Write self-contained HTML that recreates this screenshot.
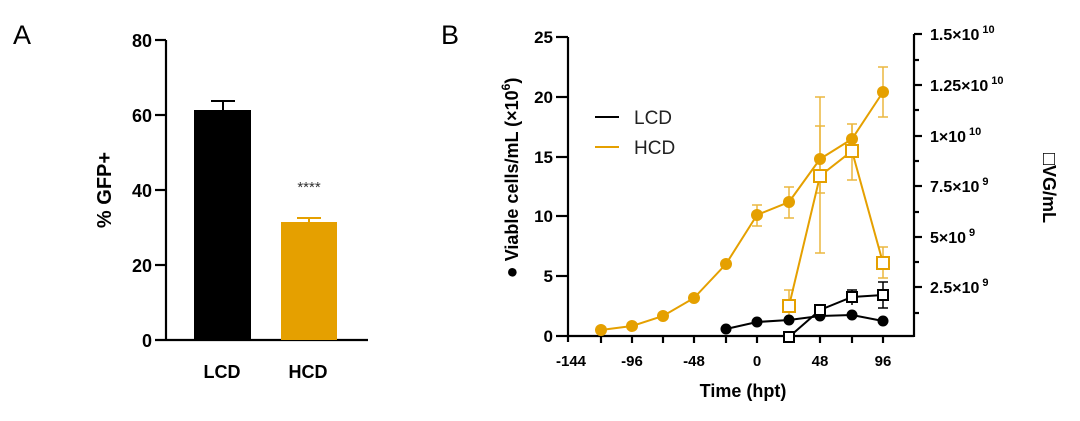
<!DOCTYPE html>
<html><head><meta charset="utf-8"><style>body{margin:0;background:#fff}svg{display:block}text{font-family:"Liberation Sans",Arial,sans-serif}</style></head><body>
<svg width="1080" height="421" viewBox="0 0 1080 421" xmlns="http://www.w3.org/2000/svg">
<!-- Panel A -->
<text x="13" y="44" font-size="27">A</text>
<g stroke="#000" stroke-width="2.2" fill="none">
<line x1="166" y1="40" x2="166" y2="341"/>
<line x1="155" y1="340" x2="368" y2="340"/>
<line x1="155" y1="40" x2="166" y2="40"/>
<line x1="155" y1="115" x2="166" y2="115"/>
<line x1="155" y1="190" x2="166" y2="190"/>
<line x1="155" y1="265" x2="166" y2="265"/>
</g>
<g font-size="18" font-weight="bold" text-anchor="end">
<text x="152" y="47">80</text><text x="152" y="122">60</text><text x="152" y="197">40</text><text x="152" y="272">20</text><text x="152" y="347">0</text>
</g>
<rect x="194" y="110" width="57" height="230" fill="#000"/>
<rect x="281" y="222" width="56" height="118" fill="#e5a000"/>
<g stroke="#000" stroke-width="2"><line x1="223" y1="110" x2="223" y2="101"/><line x1="211" y1="101" x2="235" y2="101"/></g>
<g stroke="#e5a000" stroke-width="2"><line x1="309" y1="222" x2="309" y2="218"/><line x1="297" y1="218" x2="321" y2="218"/></g>
<text x="309" y="192" font-size="15" text-anchor="middle" fill="#333">****</text>
<text x="222" y="378" font-size="18" font-weight="bold" text-anchor="middle">LCD</text>
<text x="308" y="378" font-size="18" font-weight="bold" text-anchor="middle">HCD</text>
<text transform="translate(111,190) rotate(-90)" font-size="20" font-weight="bold" text-anchor="middle">% GFP+</text>

<!-- Panel B -->
<text x="441" y="44" font-size="27">B</text>
<g stroke="#000" stroke-width="2.2" fill="none">
<line x1="568" y1="37" x2="568" y2="342"/>
<line x1="568" y1="336" x2="914" y2="336"/>
<line x1="914" y1="34" x2="914" y2="337"/>
<line x1="556" y1="37" x2="568" y2="37"/><line x1="556" y1="97" x2="568" y2="97"/><line x1="556" y1="157" x2="568" y2="157"/><line x1="556" y1="216" x2="568" y2="216"/><line x1="556" y1="276" x2="568" y2="276"/><line x1="556" y1="336" x2="568" y2="336"/>
<line x1="601" y1="336" x2="601" y2="343"/><line x1="632" y1="336" x2="632" y2="343"/><line x1="663" y1="336" x2="663" y2="343"/><line x1="694" y1="336" x2="694" y2="343"/><line x1="726" y1="336" x2="726" y2="343"/><line x1="757" y1="336" x2="757" y2="343"/><line x1="789" y1="336" x2="789" y2="343"/><line x1="820" y1="336" x2="820" y2="343"/><line x1="852" y1="336" x2="852" y2="343"/><line x1="883" y1="336" x2="883" y2="343"/>
<line x1="914" y1="34" x2="922" y2="34"/><line x1="914" y1="85" x2="922" y2="85"/><line x1="914" y1="136" x2="922" y2="136"/><line x1="914" y1="186" x2="922" y2="186"/><line x1="914" y1="237" x2="922" y2="237"/><line x1="914" y1="287" x2="922" y2="287"/>
<line x1="914" y1="60" x2="919" y2="60"/><line x1="914" y1="110" x2="919" y2="110"/><line x1="914" y1="161" x2="919" y2="161"/><line x1="914" y1="212" x2="919" y2="212"/><line x1="914" y1="262" x2="919" y2="262"/><line x1="914" y1="313" x2="919" y2="313"/>
</g>
<g font-size="17" font-weight="bold" text-anchor="end">
<text x="553" y="43">25</text><text x="553" y="103">20</text><text x="553" y="163">15</text><text x="553" y="222">10</text><text x="553" y="282">5</text><text x="553" y="342">0</text>
</g>
<g font-size="15" font-weight="bold" text-anchor="middle">
<text x="571" y="366">-144</text><text x="632" y="366">-96</text><text x="694" y="366">-48</text><text x="757" y="366">0</text><text x="820" y="366">48</text><text x="883" y="366">96</text>
</g>
<text x="743" y="397" font-size="18" font-weight="bold" text-anchor="middle">Time (hpt)</text>
<g font-size="16" font-weight="bold">
<text x="930" y="40">1.5×10<tspan font-size="11" dy="-7" dx="3">10</tspan></text>
<text x="930" y="91">1.25×10<tspan font-size="11" dy="-7" dx="3">10</tspan></text>
<text x="930" y="142">1×10<tspan font-size="11" dy="-7" dx="3">10</tspan></text>
<text x="930" y="192">7.5×10<tspan font-size="11" dy="-7" dx="3">9</tspan></text>
<text x="930" y="243">5×10<tspan font-size="11" dy="-7" dx="3">9</tspan></text>
<text x="930" y="293">2.5×10<tspan font-size="11" dy="-7" dx="3">9</tspan></text>
</g>
<text transform="translate(1043,188) rotate(90)" font-size="18" font-weight="bold" text-anchor="middle"><tspan font-size="20">□</tspan>VG/mL</text>
<text transform="translate(518,178) rotate(-90)" font-size="18" font-weight="bold" text-anchor="middle"><tspan font-size="20">●</tspan> Viable cells/mL (×10<tspan font-size="12" dy="-8">6</tspan><tspan dy="8">)</tspan></text>
<!-- legend -->
<line x1="595" y1="117" x2="619" y2="117" stroke="#000" stroke-width="2"/>
<line x1="595" y1="147" x2="619" y2="147" stroke="#e5a000" stroke-width="2"/>
<text x="634" y="124" font-size="19" fill="#222">LCD</text>
<text x="634" y="154" font-size="19" fill="#222">HCD</text>
<!-- HCD error bars -->
<g stroke="#e5a000" stroke-width="1.5" fill="none" opacity="0.75">
<path d="M757 226V205M752 226h10M752 205h10"/>
<path d="M789 218V187M784 218h10M784 187h10"/>
<path d="M820 193V126M815 193h10M815 126h10"/>
<path d="M852 153V124M847 153h10M847 124h10"/>
<path d="M883 117V67M878 117h10M878 67h10"/>
<path d="M789 318V290M784 290h10"/>
<path d="M820 253V97M815 253h10M815 97h10"/>
<path d="M852 180V124M847 180h10"/>
<path d="M883 278V247M878 278h10M878 247h10"/>
</g>
<g stroke="#000" stroke-width="1.5" fill="none">
<path d="M852 305V290M847 290h10"/>
<path d="M883 308V282M878 308h10M878 282h10"/>
</g>
<!-- HCD circles -->
<polyline fill="none" stroke="#e5a000" stroke-width="2" points="601,330 632,326 663,316 694,298 726,264 757,215 789,202 820,159 852,139 883,92"/>
<g fill="#e5a000"><circle cx="601" cy="330" r="6"/><circle cx="632" cy="326" r="6"/><circle cx="663" cy="316" r="6"/><circle cx="694" cy="298" r="6"/><circle cx="726" cy="264" r="6"/><circle cx="757" cy="215" r="6"/><circle cx="789" cy="202" r="6"/><circle cx="820" cy="159" r="6"/><circle cx="852" cy="139" r="6"/><circle cx="883" cy="92" r="6"/></g>
<!-- HCD squares -->
<polyline fill="none" stroke="#e5a000" stroke-width="2" points="789,306 820,176 852,151 883,263"/>
<g fill="#fff" stroke="#e5a000" stroke-width="2"><rect x="783" y="300" width="12" height="12"/><rect x="814" y="170" width="12" height="12"/><rect x="846" y="145" width="12" height="12"/><rect x="877" y="257" width="12" height="12"/></g>
<!-- LCD circles -->
<polyline fill="none" stroke="#000" stroke-width="2" points="726,329 757,322 789,320 820,316 852,315 883,321"/>
<g fill="#000"><circle cx="726" cy="329" r="5.5"/><circle cx="757" cy="322" r="5.5"/><circle cx="789" cy="320" r="5.5"/><circle cx="820" cy="316" r="5.5"/><circle cx="852" cy="315" r="5.5"/><circle cx="883" cy="321" r="5.5"/></g>
<!-- LCD squares -->
<polyline fill="none" stroke="#000" stroke-width="2" points="789,337 820,310 852,297 883,295"/>
<g fill="#fff" stroke="#000" stroke-width="2"><rect x="784" y="332" width="10" height="10"/><rect x="815" y="305" width="10" height="10"/><rect x="847" y="292" width="10" height="10"/><rect x="878" y="290" width="10" height="10"/></g>
</svg>
</body></html>
